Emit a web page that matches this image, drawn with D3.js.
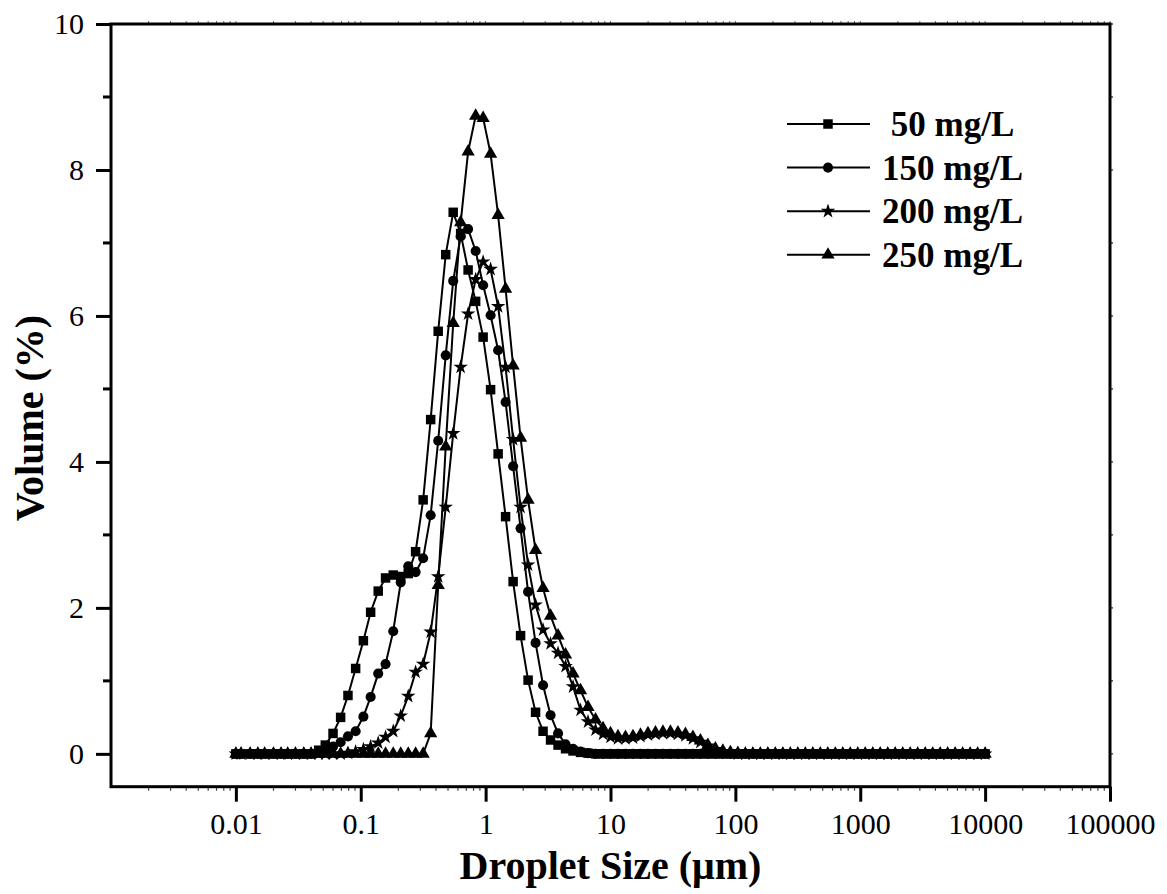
<!DOCTYPE html>
<html>
<head>
<meta charset="utf-8">
<script src="https://cdn.jsdelivr.net/npm/d3@7"></script>
<style>
  html, body { margin: 0; padding: 0; background: #fff; }
  svg { display: block; font-family: "Liberation Serif", "Times New Roman", serif; }
</style>
</head>
<body>
<div id="chart"></div>
<script>
// droplet size bins (um), as reported by the analyser
const sizes = [
  0.010, 0.011, 0.013, 0.015, 0.017, 0.020, 0.023, 0.026, 0.030, 0.035,
  0.040, 0.046, 0.052, 0.060, 0.069, 0.079, 0.091, 0.105, 0.120, 0.138,
  0.158, 0.182, 0.209, 0.240, 0.275, 0.316, 0.363, 0.417, 0.479, 0.550,
  0.631, 0.724, 0.832, 0.955, 1.096, 1.259, 1.445, 1.660, 1.905, 2.188,
  2.512, 2.884, 3.311, 3.802, 4.365, 5.012, 5.754, 6.607, 7.586, 8.710,
  10.00, 11.48, 13.18, 15.14, 17.38, 19.95, 22.91, 26.30, 30.20, 34.67,
  39.81, 45.71, 52.48, 60.26, 69.18, 79.43, 91.20, 104.7, 120.2, 138.0,
  158.5, 182.0, 208.9, 239.9, 275.4, 316.2, 363.1, 416.9, 478.6, 549.5,
  631.0, 724.4, 831.8, 955.0, 1096, 1259, 1445, 1660, 1905, 2188,
  2512, 2884, 3311, 3802, 4365, 5012, 5754, 6607, 7586, 8710,
  10000
];

const vol50 = [
  0, 0, 0, 0, 0, 0, 0, 0, 0, 0,
  0, 0.05, 0.12, 0.28, 0.50, 0.80, 1.17, 1.55, 1.94, 2.23,
  2.41, 2.45, 2.43, 2.47, 2.77, 3.48, 4.58, 5.79, 6.84, 7.42,
  7.13, 6.63, 6.20, 5.71, 4.99, 4.11, 3.25, 2.36, 1.62, 1.01,
  0.57, 0.31, 0.19, 0.12, 0.07, 0.04, 0.02, 0.01, 0, 0,
  0, 0, 0, 0, 0, 0, 0, 0, 0, 0,
  0, 0, 0, 0, 0, 0, 0, 0, 0, 0,
  0, 0, 0, 0, 0, 0, 0, 0, 0, 0,
  0, 0, 0, 0, 0, 0, 0, 0, 0, 0,
  0, 0, 0, 0, 0, 0, 0, 0, 0, 0,
  0
];

const vol150 = [
  0, 0, 0, 0, 0, 0, 0, 0, 0, 0,
  0, 0.02, 0.05, 0.10, 0.16, 0.24, 0.31, 0.51, 0.78, 1.10,
  1.23, 1.68, 2.35, 2.57, 2.49, 2.68, 3.27, 4.29, 5.46, 6.48,
  7.09, 7.19, 6.89, 6.42, 6.01, 5.53, 4.82, 3.94, 3.09, 2.22,
  1.52, 0.94, 0.53, 0.28, 0.13, 0.07, 0.03, 0.01, 0, 0,
  0, 0, 0, 0, 0, 0, 0, 0, 0, 0,
  0, 0, 0, 0, 0, 0, 0, 0, 0, 0,
  0, 0, 0, 0, 0, 0, 0, 0, 0, 0,
  0, 0, 0, 0, 0, 0, 0, 0, 0, 0,
  0, 0, 0, 0, 0, 0, 0, 0, 0, 0,
  0
];

const vol200 = [
  0, 0, 0, 0, 0, 0, 0, 0, 0, 0,
  0, 0, 0, 0, 0, 0.01, 0.03, 0.06, 0.10, 0.15,
  0.23, 0.31, 0.52, 0.79, 1.12, 1.23, 1.67, 2.43, 3.38, 4.39,
  5.30, 6.03, 6.50, 6.74, 6.64, 6.13, 5.30, 4.31, 3.38, 2.59,
  2.04, 1.70, 1.51, 1.38, 1.20, 0.92, 0.60, 0.44, 0.33, 0.27,
  0.23, 0.21, 0.21, 0.22, 0.24, 0.26, 0.27, 0.28, 0.28, 0.27,
  0.25, 0.21, 0.16, 0.11, 0.06, 0.03, 0.01, 0, 0, 0,
  0, 0, 0, 0, 0, 0, 0, 0, 0, 0,
  0, 0, 0, 0, 0, 0, 0, 0, 0, 0,
  0, 0, 0, 0, 0, 0, 0, 0, 0, 0,
  0
];

const vol250 = [
  0, 0, 0, 0, 0, 0, 0, 0, 0, 0,
  0, 0, 0, 0, 0, 0, 0, 0, 0, 0,
  0, 0, 0, 0, 0, 0, 0.28, 2.31, 4.21, 5.90,
  7.28, 8.25, 8.74, 8.71, 8.22, 7.38, 6.37, 5.32, 4.33, 3.48,
  2.79, 2.27, 1.89, 1.62, 1.36, 1.10, 0.87, 0.64, 0.47, 0.35,
  0.28, 0.24, 0.23, 0.24, 0.26, 0.28, 0.29, 0.30, 0.30, 0.29,
  0.27, 0.23, 0.18, 0.12, 0.07, 0.04, 0.02, 0.01, 0, 0,
  0, 0, 0, 0, 0, 0, 0, 0, 0, 0,
  0, 0, 0, 0, 0, 0, 0, 0, 0, 0,
  0, 0, 0, 0, 0, 0, 0, 0, 0, 0,
  0
];

const seriesNames = [' 50 mg/L', '150 mg/L', '200 mg/L', '250 mg/L'];
const seriesValues = [vol50, vol150, vol200, vol250];
const xTickValues = [0.01, 0.1, 1, 10, 100, 1000, 10000, 100000];
const yTickValues = [0, 2, 4, 6, 8, 10];
const yMinorValues = [1, 3, 5, 7, 9];

const width = 1167;
const height = 894;
const plot = { left: 111, right: 1110, top: 24, bottom: 786.7 };
const font = '"Liberation Serif", "Times New Roman", serif';

const symbols = [
  d3.symbol().type(d3.symbolSquare).size(90),
  d3.symbol().type(d3.symbolCircle).size(80),
  d3.symbol().type(d3.symbolStar).size(66),
  d3.symbol().type(d3.symbolTriangle).size(76),
];

const svg = d3
  .select('#chart')
  .append('svg')
  .attr('width', width)
  .attr('height', height);

const x = d3.scaleLog().domain([0.001, 100000]).range([plot.left, plot.right]);
const y = d3.scaleLinear().domain([-0.45, 10]).range([plot.bottom, plot.top]);

// minor positions on the log axis (2..9 of each decade)
const xMinor = [];
for (let e = -3; e < 5; e++) {
  for (let m = 2; m <= 9; m++) xMinor.push(m * Math.pow(10, e));
}

// bottom axis
const xAxis = svg
  .append('g')
  .attr('transform', `translate(0,${plot.bottom})`)
  .call(
    d3.axisBottom(x)
      .tickValues(xTickValues)
      .tickFormat((d) => String(d))
      .tickSize(15)
      .tickSizeOuter(0)
      .tickPadding(11)
  );
xAxis.select('.domain').remove();
xAxis.selectAll('.tick line').attr('stroke', '#000').attr('stroke-width', 3);
xAxis.selectAll('.tick text')
  .attr('fill', '#000')
  .style('font-family', font)
  .style('font-size', '30px');

svg.append('g')
  .selectAll('line')
  .data(xMinor)
  .join('line')
  .attr('x1', (d) => x(d))
  .attr('x2', (d) => x(d))
  .attr('y1', plot.bottom)
  .attr('y2', plot.bottom + 4)
  .attr('stroke', '#444')
  .attr('stroke-width', 1.2);

// top axis: tiny ticks only
svg.append('g')
  .selectAll('line')
  .data(xMinor.concat(xTickValues))
  .join('line')
  .attr('x1', (d) => x(d))
  .attr('x2', (d) => x(d))
  .attr('y1', plot.top)
  .attr('y2', plot.top - 3)
  .attr('stroke', '#666')
  .attr('stroke-width', 1);

// left axis
const yAxis = svg
  .append('g')
  .attr('transform', `translate(${plot.left},0)`)
  .call(
    d3.axisLeft(y)
      .tickValues(yTickValues)
      .tickSize(15)
      .tickSizeOuter(0)
      .tickPadding(12)
  );
yAxis.select('.domain').remove();
yAxis.selectAll('.tick line').attr('stroke', '#000').attr('stroke-width', 3);
yAxis.selectAll('.tick text')
  .attr('fill', '#000')
  .style('font-family', font)
  .style('font-size', '30px');

svg.append('g')
  .selectAll('line')
  .data(yMinorValues)
  .join('line')
  .attr('x1', plot.left)
  .attr('x2', plot.left - 8)
  .attr('y1', (d) => y(d))
  .attr('y2', (d) => y(d))
  .attr('stroke', '#000')
  .attr('stroke-width', 3);

// right axis: tiny ticks only
svg.append('g')
  .selectAll('line')
  .data(yTickValues.concat(yMinorValues))
  .join('line')
  .attr('x1', plot.right)
  .attr('x2', plot.right + 3)
  .attr('y1', (d) => y(d))
  .attr('y2', (d) => y(d))
  .attr('stroke', '#444')
  .attr('stroke-width', 1.5);

// frame
svg.append('rect')
  .attr('x', plot.left)
  .attr('y', plot.top)
  .attr('width', plot.right - plot.left)
  .attr('height', plot.bottom - plot.top)
  .attr('fill', 'none')
  .attr('stroke', '#000')
  .attr('stroke-width', 3);

// series
const line = d3
  .line()
  .x((d) => x(d.size))
  .y((d) => y(d.value));

seriesValues.forEach((values, k) => {
  const points = sizes.map((s, i) => ({ size: s, value: values[i] }));
  const g = svg.append('g');
  g.append('path')
    .datum(points)
    .attr('d', line)
    .attr('fill', 'none')
    .attr('stroke', '#000')
    .attr('stroke-width', 2);
  g.selectAll('path.marker')
    .data(points)
    .join('path')
    .attr('class', 'marker')
    .attr('transform', (d) => `translate(${x(d.size)},${y(d.value)})`)
    .attr('d', symbols[k])
    .attr('fill', '#000');
});

// legend
const legend = svg.append('g');
seriesNames.forEach((name, k) => {
  const ly = 124 + k * 43.6;
  legend.append('line')
    .attr('x1', 787)
    .attr('x2', 870)
    .attr('y1', ly)
    .attr('y2', ly)
    .attr('stroke', '#000')
    .attr('stroke-width', 2);
  legend.append('path')
    .attr('transform', `translate(828,${ly})`)
    .attr('d', symbols[k])
    .attr('fill', '#000');
  legend.append('text')
    .attr('x', 882)
    .attr('y', ly + 12)
    .attr('xml:space', 'preserve')
    .style('white-space', 'pre')
    .style('font-family', font)
    .style('font-weight', 'bold')
    .style('font-size', '35px')
    .text(name);
});

// axis titles
svg.append('text')
  .attr('x', (plot.left + plot.right) / 2)
  .attr('y', 879)
  .attr('text-anchor', 'middle')
  .style('font-family', font)
  .style('font-weight', 'bold')
  .style('font-size', '40px')
  .text('Droplet Size (\u03bcm)');

svg.append('text')
  .attr('transform', 'translate(43,418) rotate(-90)')
  .attr('text-anchor', 'middle')
  .style('font-family', font)
  .style('font-weight', 'bold')
  .style('font-size', '40px')
  .text('Volume (%)');
</script>
</body>
</html>
